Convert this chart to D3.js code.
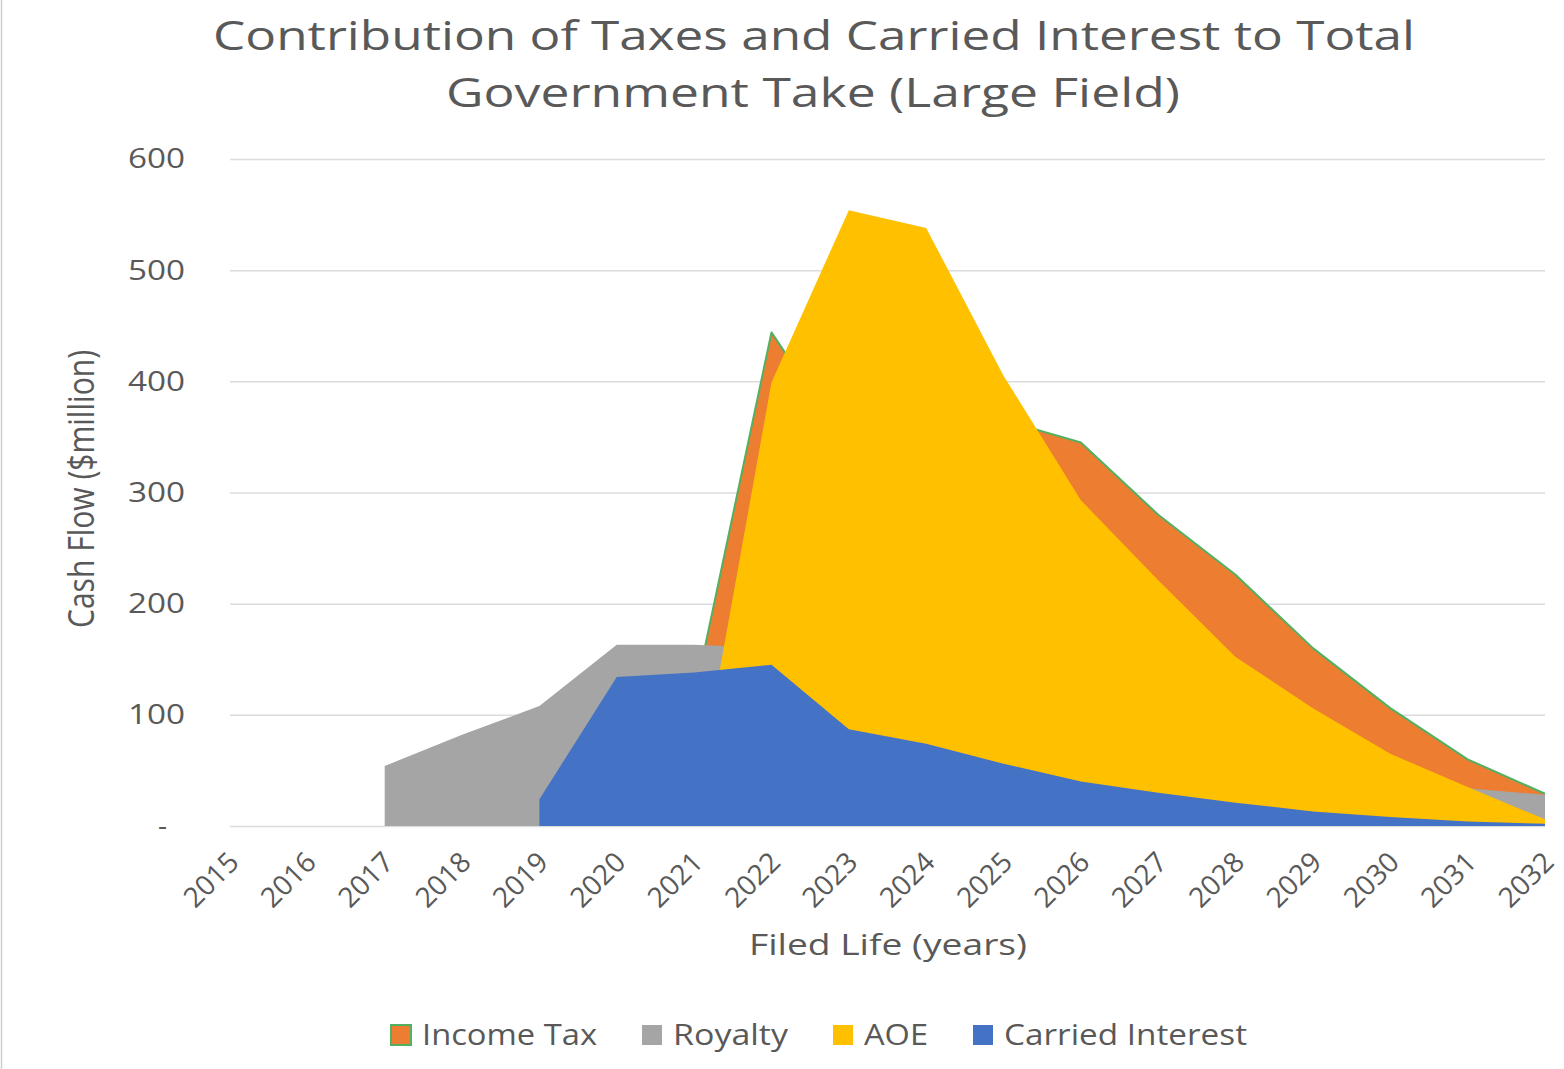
<!DOCTYPE html>
<html>
<head>
<meta charset="utf-8">
<script src="https://cdn.jsdelivr.net/npm/d3@7"></script>
<style>
  body { margin: 0; background: #fff; }
  svg { display: block; font-family: "Open Sans", sans-serif; }
</style>
</head>
<body>
<svg id="chart"></svg>
<script>
// years on the x axis (points sit on the tick marks)
const years = [2015, 2016, 2017, 2018, 2019, 2020, 2021, 2022, 2023, 2024, 2025, 2026, 2027, 2028, 2029, 2030, 2031, 2032];

// $million, null = empty cell (area starts with a vertical edge)
const incomeTax = [null, null, null, null, null, null, 115, 444, 340, 385, 365, 345, 280, 226, 160, 106, 60, 29];
const royalty = [null, null, 54, 82, 108, 163, 163, 160, 140, 120, 100, 85, 70, 55, 45, 38, 34, 28];
const aoe = [null, null, null, null, null, null, 12, 399, 554, 538, 405, 293, 221, 152, 106, 65, 35, 6];
const carriedInterest = [null, null, null, null, 24, 134, 138, 145, 87, 74, 56, 40, 30, 21, 13, 8, 4, 2];

const seriesNames = ["Income Tax", "Royalty", "AOE", "Carried Interest"];
const yTicks = [0, 100, 200, 300, 400, 500, 600];

(function () {
    const width = 1564;
    const height = 1069;
    const margin = { top: 159, right: 19, bottom: 243, left: 230 };
    const textColor = "#595959";
    const outline = "#52b062";

    const svg = d3.select("#chart")
        .attr("width", width)
        .attr("height", height);

    svg.append("rect")
        .attr("width", width)
        .attr("height", height)
        .attr("fill", "#fff");

    // thin frame line on the left edge of the picture
    svg.append("line")
        .attr("x1", 1.5).attr("x2", 1.5)
        .attr("y1", 0).attr("y2", height)
        .attr("stroke", "#d0d0d0")
        .attr("stroke-width", 1.5);

    const x = d3.scalePoint()
        .domain(years)
        .range([margin.left, width - margin.right])
        .padding(0);

    const y = d3.scaleLinear()
        .domain([0, 600])
        .range([height - margin.bottom, margin.top]);

    const color = d3.scaleOrdinal()
        .domain(seriesNames)
        .range(["#ED7D31", "#A5A5A5", "#FFC000", "#4472C4"]);

    // y axis + gridlines
    const yAxis = svg.append("g")
        .attr("class", "y-axis")
        .attr("transform", `translate(${margin.left},0)`)
        .call(d3.axisLeft(y)
            .tickValues(yTicks)
            .tickSize(-(width - margin.left - margin.right))
            .tickPadding(45)
            .tickFormat(d => d === 0 ? "-" : d));

    yAxis.select(".domain").remove();
    yAxis.selectAll(".tick line")
        .attr("stroke", "#dcdcdc")
        .attr("stroke-width", 1.5);
    yAxis.selectAll(".tick text")
        .attr("fill", textColor)
        .attr("font-size", 28)
        .attr("font-family", "Open Sans, sans-serif")
        .attr("textLength", d => d === 0 ? null : 57)
        .attr("lengthAdjust", "spacingAndGlyphs")
        .attr("dx", d => d === 0 ? -18 : 0);

    // areas, back to front like the original
    const area = d3.area()
        .defined(d => d.value != null)
        .x(d => x(d.year))
        .y0(y(0))
        .y1(d => y(d.value));

    const topLine = d3.line()
        .defined(d => d.value != null)
        .x(d => x(d.year))
        .y(d => y(d.value));

    const series = [
        { name: "Income Tax", values: incomeTax },
        { name: "Royalty", values: royalty },
        { name: "AOE", values: aoe },
        { name: "Carried Interest", values: carriedInterest }
    ].map(s => ({
        name: s.name,
        points: years.map((yr, i) => ({ year: yr, value: s.values[i] }))
    }));

    const layers = svg.append("g")
        .selectAll("g")
        .data(series)
        .enter().append("g");

    layers.append("path")
        .attr("d", d => area(d.points))
        .attr("fill", d => color(d.name));

    // green border on the Income Tax area (top edge only shows)
    layers.filter(d => d.name === "Income Tax")
        .append("path")
        .attr("d", d => topLine(d.points))
        .attr("fill", "none")
        .attr("stroke", outline)
        .attr("stroke-width", 2)
        .attr("stroke-linejoin", "round");

    // x axis labels
    const xAxis = svg.append("g")
        .attr("class", "x-axis")
        .attr("transform", `translate(0,${height - margin.bottom})`)
        .call(d3.axisBottom(x).tickSize(0).tickFormat(d3.format("d")));

    xAxis.select(".domain").remove();
    xAxis.selectAll(".tick text")
        .attr("fill", textColor)
        .attr("font-size", 28)
        .attr("font-family", "Open Sans, sans-serif")
        .attr("text-anchor", "end")
        .attr("dy", 0)
        .attr("y", 0)
        .attr("transform", "translate(10,38) rotate(-45)");

    // titles
    const title = svg.append("g")
        .attr("fill", textColor)
        .attr("text-anchor", "middle")
        .attr("font-size", 41);

    title.append("text")
        .attr("x", 814).attr("y", 50)
        .attr("textLength", 1202)
        .attr("lengthAdjust", "spacingAndGlyphs")
        .text("Contribution of Taxes and Carried Interest to Total");

    title.append("text")
        .attr("x", 813).attr("y", 107)
        .attr("textLength", 734)
        .attr("lengthAdjust", "spacingAndGlyphs")
        .text("Government Take (Large Field)");

    svg.append("text")
        .attr("transform", "translate(94,489) rotate(-90)")
        .attr("text-anchor", "middle")
        .attr("fill", textColor)
        .attr("font-size", 36)
        .attr("textLength", 278)
        .attr("lengthAdjust", "spacingAndGlyphs")
        .text("Cash Flow ($million)");

    svg.append("text")
        .attr("x", 888).attr("y", 955)
        .attr("text-anchor", "middle")
        .attr("fill", textColor)
        .attr("font-size", 30)
        .attr("textLength", 278)
        .attr("lengthAdjust", "spacingAndGlyphs")
        .text("Filed Life (years)");

    // legend
    const legendTextW = [175, 115, 64, 243];
    const swatch = 20;
    const gapText = 11;
    const gapItem = 45;
    let lx = 391;
    const legend = svg.append("g").attr("class", "legend");
    seriesNames.forEach((name, i) => {
        const item = legend.append("g").attr("transform", `translate(${lx},1025)`);
        item.append("rect")
            .attr("width", swatch)
            .attr("height", swatch)
            .attr("fill", color(name))
            .attr("stroke", name === "Income Tax" ? outline : "none")
            .attr("stroke-width", 2);
        item.append("text")
            .attr("x", swatch + gapText)
            .attr("y", 20)
            .attr("fill", textColor)
            .attr("font-size", 29)
            .attr("textLength", legendTextW[i])
            .attr("lengthAdjust", "spacingAndGlyphs")
            .text(name);
        lx += swatch + gapText + legendTextW[i] + gapItem;
    });
})();
</script>
</body>
</html>
